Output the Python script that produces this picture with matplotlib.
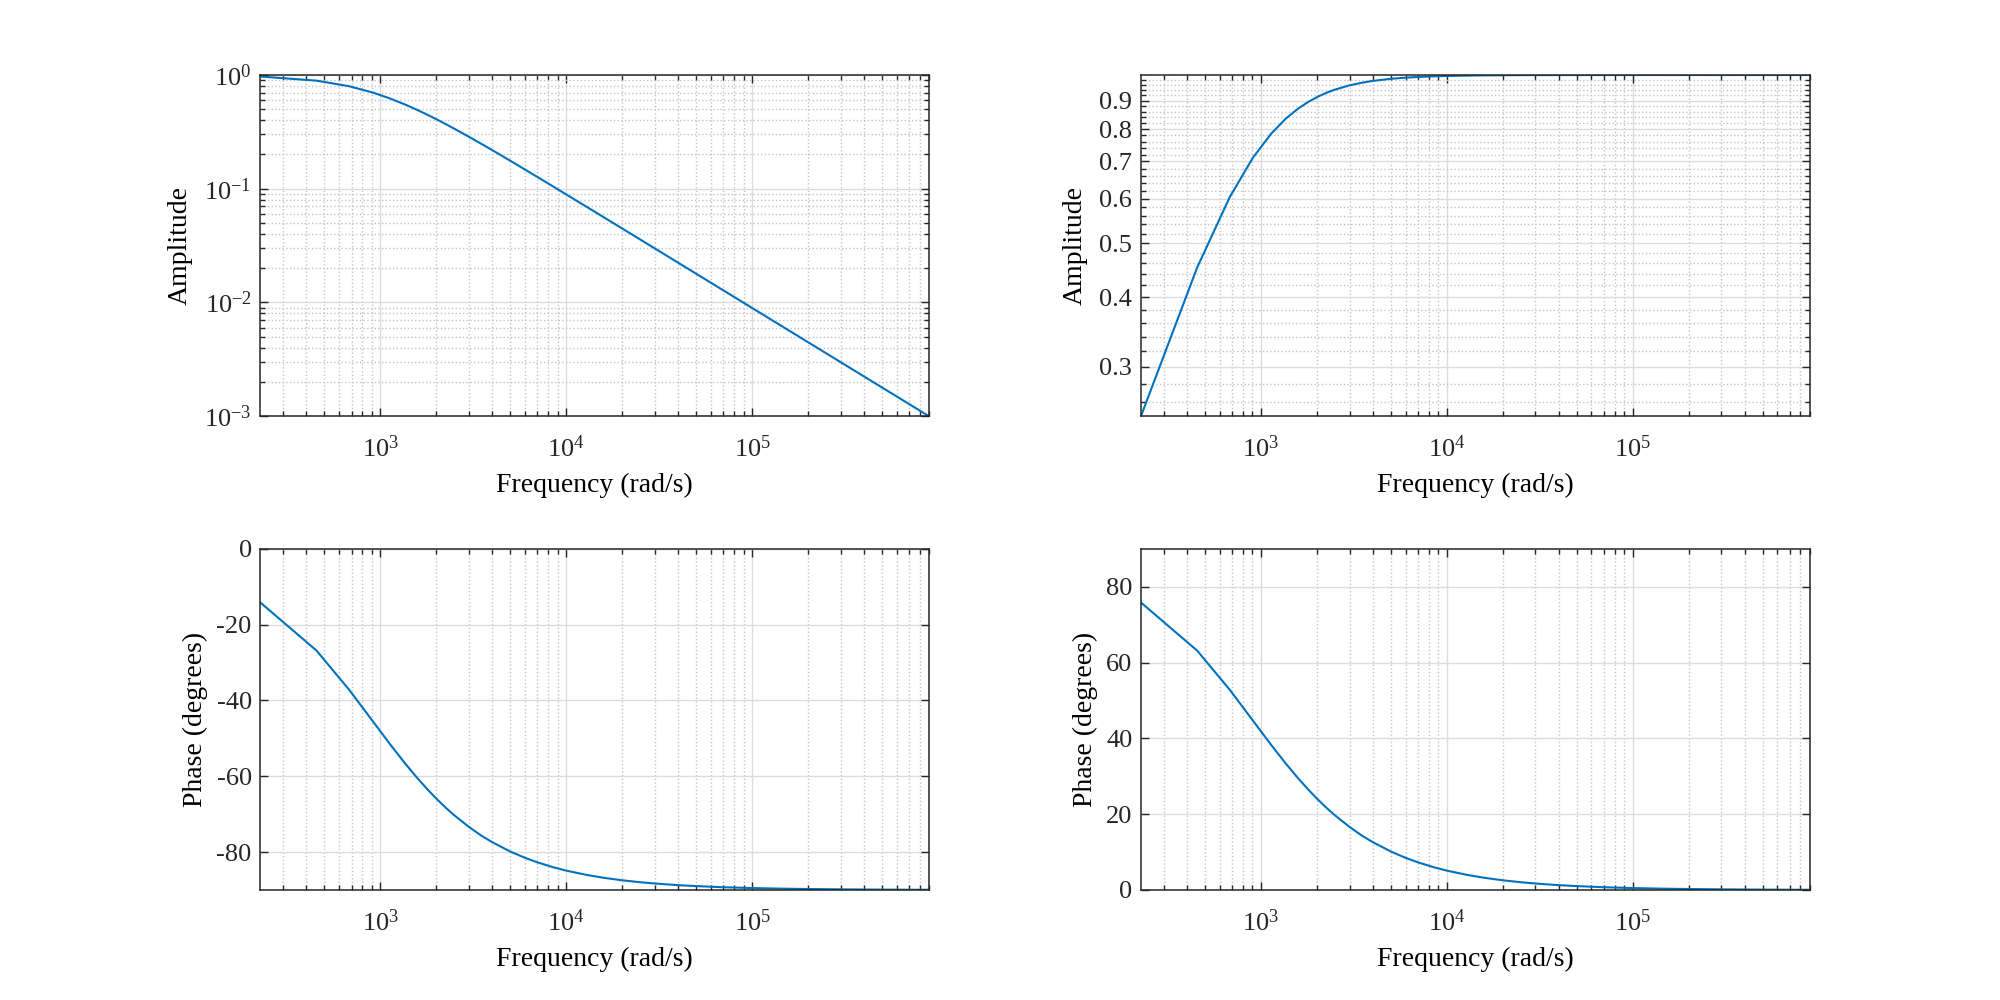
import numpy as np
import matplotlib
matplotlib.use("Agg")
import matplotlib.pyplot as plt
from matplotlib.ticker import FixedLocator, FixedFormatter, NullFormatter, LogLocator

plt.rcParams["font.family"] = ["Liberation Serif", "DejaVu Serif"]
plt.rcParams["mathtext.fontset"] = "custom"
plt.rcParams["mathtext.rm"] = "Liberation Serif"
plt.rcParams["mathtext.it"] = "Liberation Serif:italic"
plt.rcParams["mathtext.bf"] = "Liberation Serif:bold"
plt.rcParams["axes.unicode_minus"] = False

# frequency samples (rad/s)
omega = [226, 453, 679, 905, 1132, 1358, 1585, 1811, 2037, 2264, 2490,
         3000, 3500, 4000, 5000, 6000, 7000, 8500, 1.0e4, 1.3e4, 1.6e4,
         2.0e4, 2.5e4, 3.0e4, 4.0e4, 5.0e4, 7.0e4, 1.0e5, 1.5e5, 2.0e5,
         3.0e5, 5.0e5, 7.0e5, 9.0e5]

# low-pass: amplitude and phase (deg)
lp_amp = [0.9696, 0.8922, 0.7967, 0.7031, 0.6202, 0.5503, 0.4917, 0.4430,
          0.4023, 0.3676, 0.3382, 0.2859, 0.2477, 0.2184, 0.1762, 0.1475,
          0.1268, 0.1047, 0.0891, 0.06868, 0.05585, 0.04471, 0.03578,
          0.02983, 0.02237, 0.01790, 0.01279, 0.00895, 0.005967, 0.004475,
          0.002983, 0.00179, 0.001279, 0.000994]
lp_phase = [-14.17, -26.84, -37.18, -45.32, -51.67, -56.61, -60.55, -63.70,
            -66.28, -68.44, -70.23, -73.39, -75.69, -77.39, -79.85, -81.52,
            -82.71, -83.99, -84.89, -86.06, -86.80, -87.44, -87.95, -88.29,
            -88.72, -88.97, -89.27, -89.49, -89.66, -89.74, -89.83, -89.90,
            -89.93, -89.94]

# high-pass: amplitude and phase (deg)
hp_amp = [0.2448, 0.4516, 0.6044, 0.7110, 0.7844, 0.8350, 0.8707, 0.8965,
          0.9155, 0.9300, 0.9411, 0.9583, 0.9688, 0.9759, 0.9844, 0.9891,
          0.9919, 0.9945, 0.9960, 0.99762, 0.99844, 0.99900, 0.99936,
          0.99956, 0.99975, 0.99984, 0.99992, 0.99996, 0.99998, 0.99999,
          0.99999, 1.0, 1.0, 1.0]
hp_phase = [75.83, 63.16, 52.82, 44.68, 38.33, 33.39, 29.45, 26.30, 23.72,
            21.56, 19.77, 16.61, 14.31, 12.61, 10.15, 8.48, 7.29, 6.01, 5.11,
            3.94, 3.20, 2.56, 2.05, 1.71, 1.28, 1.03, 0.73, 0.51, 0.34, 0.26,
            0.17, 0.10, 0.07, 0.06]

xlim = (225, 9.0e5)
line_color = "#0072BD"
edge = "#262626"


def style_axes(ax, minor_y_grid):
    ax.set_xscale("log")
    ax.set_xlim(*xlim)
    ax.xaxis.set_major_locator(LogLocator(base=10))
    ax.xaxis.set_minor_locator(LogLocator(base=10, subs=np.arange(2, 10)))
    ax.xaxis.set_minor_formatter(NullFormatter())
    ax.grid(which="major", color="#dcdcdc", linestyle="-", linewidth=1.0)
    ax.grid(which="minor", axis="x", color="#c4c4c4", linestyle=":", linewidth=1.0)
    if minor_y_grid:
        ax.grid(which="minor", axis="y", color="#c4c4c4", linestyle=":", linewidth=1.0)
    ax.tick_params(which="both", direction="in", top=True, right=True,
                   colors=edge, labelcolor="#262626", labelsize=19, pad=6, width=1.0)
    ax.tick_params(axis="x", which="major", pad=14)
    ax.tick_params(which="major", length=6)
    ax.tick_params(which="minor", length=3.5)
    for s in ax.spines.values():
        s.set_color(edge)
        s.set_linewidth(1.1)
    ax.set_xlabel("Frequency (rad/s)", fontsize=20, labelpad=8)


fig = plt.figure(figsize=(20, 10), dpi=100)
w_ax, h_ax = 0.3347, 0.3412
ax1 = fig.add_axes([0.13, 0.5838, w_ax, h_ax])
ax2 = fig.add_axes([0.5703, 0.5838, w_ax, h_ax])
ax3 = fig.add_axes([0.13, 0.11, w_ax, h_ax])
ax4 = fig.add_axes([0.5703, 0.11, w_ax, h_ax])

# low-pass amplitude
ax1.plot(omega, lp_amp, color=line_color, linewidth=1.5)
ax1.set_yscale("log")
ax1.set_ylim(1e-3, 1.0)
ax1.yaxis.set_minor_locator(LogLocator(base=10, subs=np.arange(2, 10)))
ax1.yaxis.set_minor_formatter(NullFormatter())
style_axes(ax1, True)
ax1.set_ylabel("Amplitude", fontsize=20, labelpad=8)

# high-pass amplitude
ax2.plot(omega, hp_amp, color=line_color, linewidth=1.5)
ax2.set_yscale("log")
ax2.set_ylim(0.2448, 1.0)
major_y = [0.3, 0.4, 0.5, 0.6, 0.7, 0.8, 0.9]
minor_y = [round(0.26 + 0.02 * i, 2) for i in range(37)]
minor_y = [v for v in minor_y if all(abs(v - m) > 1e-6 for m in major_y)]
ax2.yaxis.set_major_locator(FixedLocator(major_y))
ax2.yaxis.set_major_formatter(FixedFormatter([str(v) for v in major_y]))
ax2.yaxis.set_minor_locator(FixedLocator(minor_y))
ax2.yaxis.set_minor_formatter(NullFormatter())
style_axes(ax2, True)
ax2.set_ylabel("Amplitude", fontsize=20, labelpad=8)

# low-pass phase
ax3.plot(omega, lp_phase, color=line_color, linewidth=1.5)
ax3.set_ylim(-90, 0)
ax3.set_yticks([-80, -60, -40, -20, 0])
style_axes(ax3, False)
ax3.set_ylabel("Phase (degrees)", fontsize=20, labelpad=6)

# high-pass phase
ax4.plot(omega, hp_phase, color=line_color, linewidth=1.5)
ax4.set_ylim(0, 90)
ax4.set_yticks([0, 20, 40, 60, 80])
style_axes(ax4, False)
ax4.set_ylabel("Phase (degrees)", fontsize=20, labelpad=6)

fig.savefig("out.png", dpi=100)
plt.close(fig)
